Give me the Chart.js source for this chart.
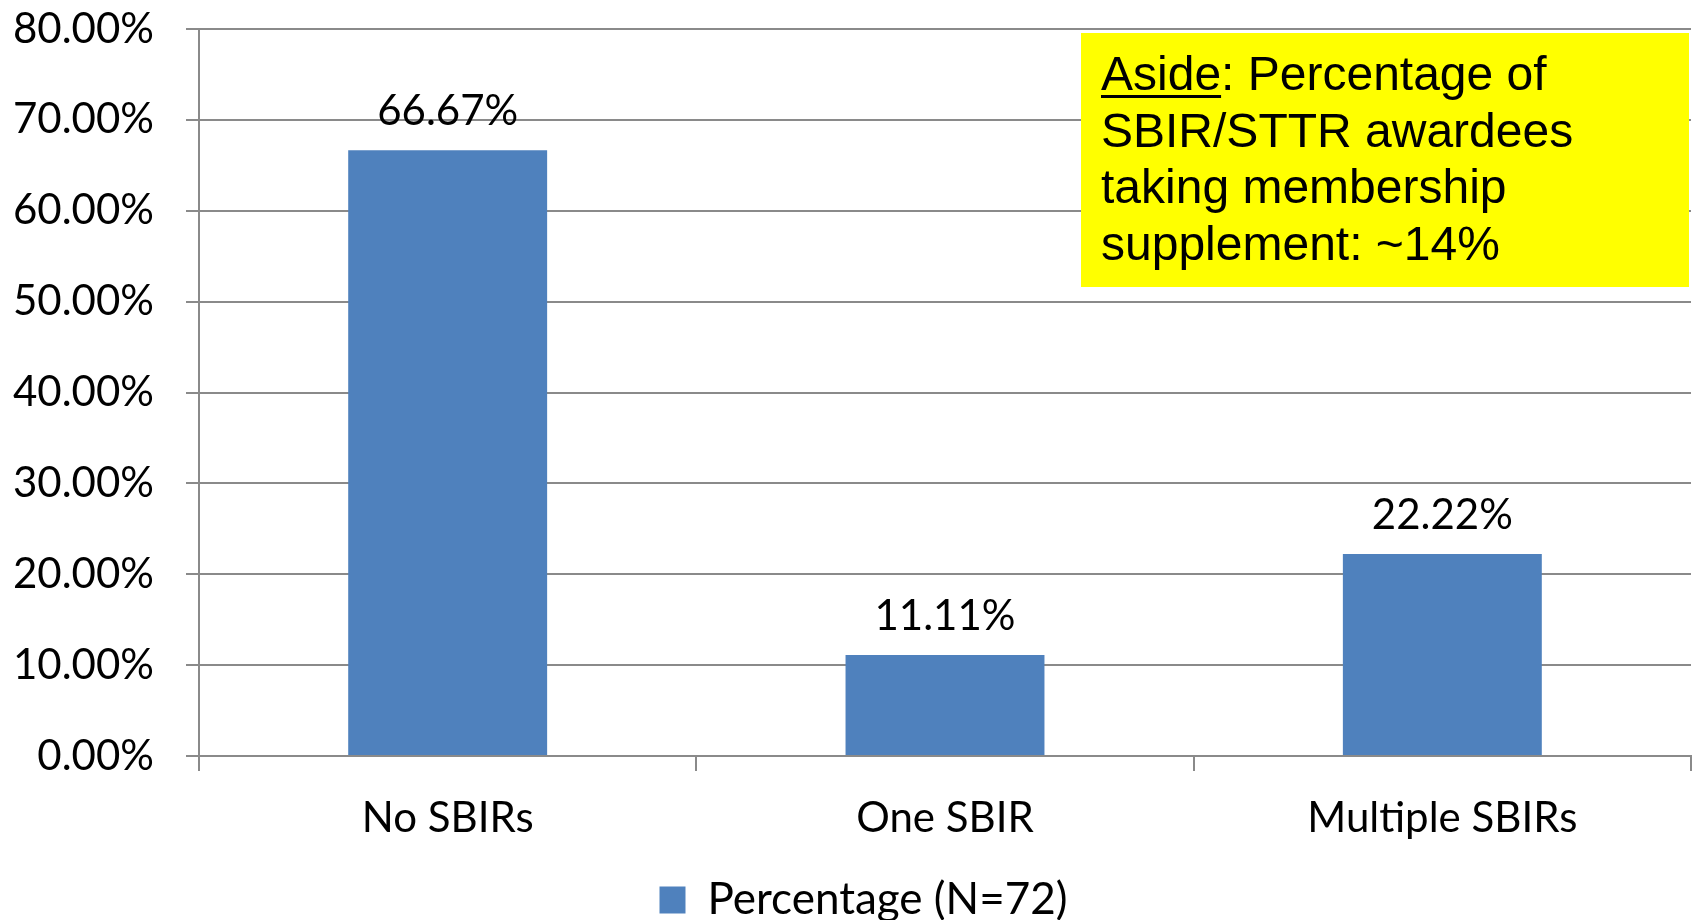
<!DOCTYPE html>
<html>
<head>
<meta charset="utf-8">
<script src="https://cdn.jsdelivr.net/npm/chart.js@4"></script>
<style>
  html, body { margin: 0; padding: 0; background: #ffffff; overflow: hidden; }
  #wrap { width: 1694px; height: 920px; position: relative; }
</style>
</head>
<body>
<div id="wrap"><canvas id="chart" width="1694" height="920"></canvas></div>
<script>
// Survey data: share of respondents by number of SBIR awards
const categories = ['No SBIRs', 'One SBIR', 'Multiple SBIRs'];
const percentages = [66.67, 11.11, 22.22];
const seriesLabel = 'Percentage (N=72)';
const yTickValues = [0, 10, 20, 30, 40, 50, 60, 70, 80];

// Side note shown in the highlighted box
const asideHeading = 'Aside';
const asideLines = [
  ': Percentage of',
  'SBIR/STTR awardees',
  'taking membership',
  'supplement: ~14%'
];

const axisFont = 'Lato';
const gridColor = '#8a8a8a';
const barColor = '#4F81BD';

const fmtPct = v => Number(v).toFixed(2) + '%';

// Value labels above each bar
const valueLabels = {
  id: 'valueLabels',
  afterDatasetsDraw(chart) {
    const ctx = chart.ctx;
    const meta = chart.getDatasetMeta(0);
    ctx.save();
    ctx.font = '42px ' + axisFont;
    ctx.fillStyle = '#000000';
    ctx.textAlign = 'center';
    ctx.textBaseline = 'alphabetic';
    meta.data.forEach((bar, i) => {
      ctx.fillText(fmtPct(chart.data.datasets[0].data[i]), bar.x, bar.y - 25);
    });
    ctx.restore();
  }
};

// Centre the legend under the plot body rather than the full canvas
const legendShift = {
  id: 'legendShift',
  afterLayout(chart) {
    if (chart.legend) {
      chart.legend.left += 18;
      chart.legend.right += 18;
    }
  }
};

// Highlighted note box in the upper right of the plot
const asideBox = {
  id: 'asideBox',
  afterDraw(chart) {
    const ctx = chart.ctx;
    const area = chart.chartArea;
    const w = 608, h = 254;
    const x = area.right - 2 - w;
    const y = area.top + 4;
    ctx.save();
    ctx.fillStyle = '#FFFF00';
    ctx.fillRect(x, y, w, h);
    ctx.font = '48px "Liberation Sans", Arial, sans-serif';
    ctx.fillStyle = '#000000';
    ctx.textAlign = 'left';
    ctx.textBaseline = 'alphabetic';
    const tx = x + 20;
    const lineStep = 56.7;
    asideLines.forEach((line, i) => {
      const by = y + 57 + i * lineStep;
      if (i === 0) {
        ctx.fillText(asideHeading, tx, by);
        const hw = ctx.measureText(asideHeading).width;
        ctx.fillRect(tx, by + 5, hw, 3);
        ctx.fillText(line, tx + hw, by);
      } else {
        ctx.fillText(line, tx, by);
      }
    });
    ctx.restore();
  }
};

new Chart(document.getElementById('chart'), {
  type: 'bar',
  data: {
    labels: categories,
    datasets: [{
      label: seriesLabel,
      data: percentages,
      backgroundColor: barColor,
      borderWidth: 0,
      categoryPercentage: 0.8,
      barPercentage: 0.5
    }]
  },
  options: {
    responsive: false,
    devicePixelRatio: 1,
    animation: false,
    layout: { padding: { left: 0, right: 3, top: 29, bottom: 0 } },
    plugins: {
      tooltip: { enabled: false },
      legend: {
        position: 'bottom',
        maxHeight: 42,
        labels: {
          boxWidth: 26,
          boxHeight: 27,
          padding: 0,
          color: '#000000',
          font: { family: axisFont, size: 44 }
        }
      }
    },
    scales: {
      x: {
        ticks: { color: '#000000', padding: 22, font: { family: axisFont, size: 42 } },
        grid: { drawOnChartArea: false, drawTicks: true, tickLength: 15, color: gridColor, lineWidth: 2, offset: true },
        border: { color: gridColor, width: 2 },
        afterFit(scale) { scale.height = 122; }
      },
      y: {
        min: 0,
        max: 80,
        afterBuildTicks(scale) { scale.ticks = yTickValues.map(v => ({ value: v })); },
        ticks: {
          color: '#000000',
          padding: 32,
          font: { family: axisFont, size: 42 },
          callback: v => fmtPct(v)
        },
        grid: { color: gridColor, lineWidth: 2, tickLength: 13, drawTicks: true },
        border: { color: gridColor, width: 2 },
        afterFit(scale) {
          scale.width = 199;
          scale.paddingTop = 0;
          scale.paddingBottom = 0;
        }
      }
    }
  },
  plugins: [valueLabels, legendShift, asideBox]
});
</script>
</body>
</html>
